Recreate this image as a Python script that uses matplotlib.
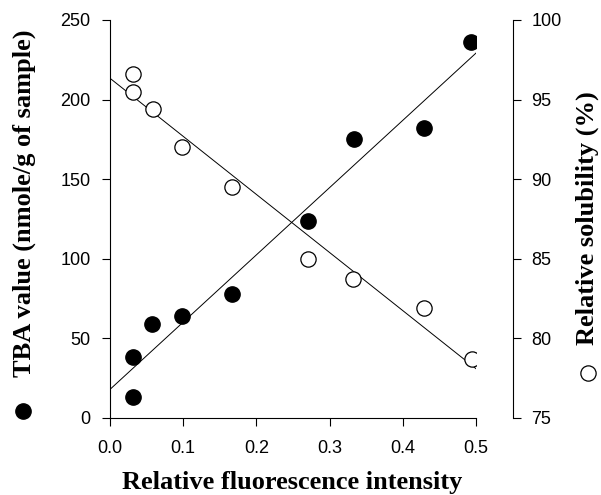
import numpy as np
import matplotlib
matplotlib.use('Agg')
import matplotlib.pyplot as plt

# relative fluorescence intensity for each sample
fluor_tba = [0.031, 0.032, 0.058, 0.098, 0.167, 0.270, 0.333, 0.429, 0.493]
tba = [13, 38, 59, 64, 78, 124, 175, 182, 236]

fluor_sol = [0.031, 0.032, 0.059, 0.098, 0.167, 0.270, 0.332, 0.429, 0.494]
solubility = [96.6, 95.5, 94.4, 92.0, 89.5, 85.0, 83.7, 81.9, 78.7]

xticks = [0.0, 0.1, 0.2, 0.3, 0.4, 0.5]
tba_ticks = [0, 50, 100, 150, 200, 250]
sol_ticks = [75, 80, 85, 90, 95, 100]

tick_font = {'family': 'Liberation Sans', 'size': 13}
label_font = {'family': 'Liberation Serif', 'weight': 'bold', 'size': 19}

fig = plt.figure(figsize=(6.01, 4.95), dpi=100)
ax1 = fig.add_axes([0.183, 0.1556, 0.609, 0.804])
ax2 = ax1.twinx()

# spines first: moving a spine resets the tick labels
for ax in (ax1, ax2):
    ax.spines['top'].set_visible(False)
    for s in ax.spines.values():
        s.set_linewidth(0.8)
ax1.spines['right'].set_visible(False)
ax2.spines['left'].set_visible(False)
ax2.spines['bottom'].set_visible(False)
ax2.spines['right'].set_position(('outward', 27))

# linear fits through each series
xfit = np.array([0.0, 0.5])
p1 = np.polyfit(fluor_tba, tba, 1)
p2 = np.polyfit(fluor_sol, solubility, 1)

ax1.plot(xfit, np.polyval(p1, xfit), color='black', lw=0.7, zorder=1)
ax1.plot(fluor_tba, tba, 'o', color='black', ms=11, zorder=3)
ax2.plot(xfit, np.polyval(p2, xfit), color='black', lw=0.7, zorder=1)
ax2.plot(fluor_sol, solubility, 'o', mfc='white', mec='black', mew=0.9, ms=11, zorder=3)

ax1.set_xlim(0, 0.5)
ax1.set_ylim(0, 250)
ax2.set_ylim(75, 100)
ax1.set_xticks(xticks)
ax1.set_xticklabels(['%.1f' % v for v in xticks], fontdict=tick_font)
ax1.set_yticks(tba_ticks)
ax1.set_yticklabels([str(v) for v in tba_ticks], fontdict=tick_font)
ax2.set_yticks(sol_ticks)
ax2.set_yticklabels([str(v) for v in sol_ticks], fontdict=tick_font)

for ax in (ax1, ax2):
    ax.tick_params(direction='out', length=6, width=0.8)
ax1.tick_params(axis='x', pad=10)
ax1.tick_params(axis='y', pad=8)
ax2.tick_params(axis='y', pad=7)

fig.text(0.041, 0.59, 'TBA value (nmole/g of sample)', rotation=90,
         ha='center', va='center', fontdict=label_font)
fig.text(0.977, 0.56, 'Relative solubility (%)', rotation=90,
         ha='center', va='center', fontdict=label_font)
fig.text(0.486, 0.025, 'Relative fluorescence intensity',
         ha='center', va='center', fontdict=label_font)

# symbol keys under the axis titles
ax1.plot([0.038], [1 - 411 / 495], 'o', color='black', ms=11,
         transform=fig.transFigure, clip_on=False)
ax1.plot([0.978], [1 - 373 / 495], 'o', mfc='white', mec='black', mew=0.9,
         ms=11, transform=fig.transFigure, clip_on=False)

fig.savefig('out.png', dpi=100)
